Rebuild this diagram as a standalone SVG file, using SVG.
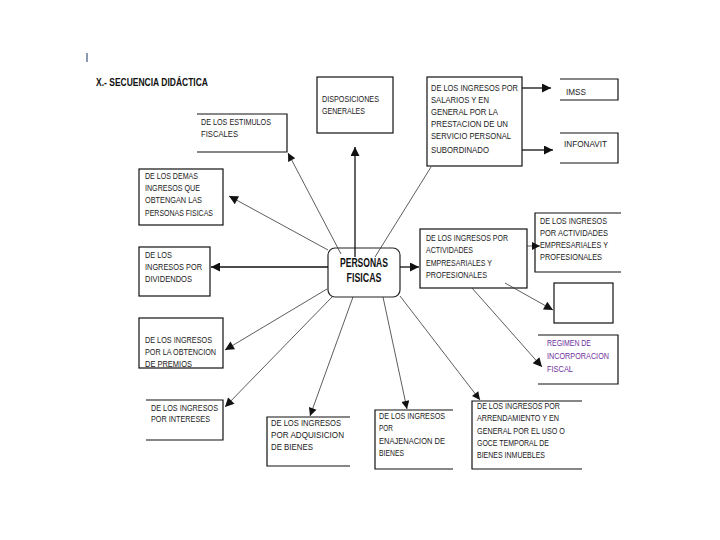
<svg xmlns="http://www.w3.org/2000/svg" width="720" height="540" viewBox="0 0 720 540">
<defs>
<style>
.t{font-family:"Liberation Sans",Arial,sans-serif;font-size:9.6px;fill:#1a1a1a}
.p{fill:#7030a0}
.b{fill:none;stroke:#111;stroke-width:1.2}
.c{fill:#fff;stroke:#222;stroke-width:1.2}
.thick{stroke:#111;stroke-width:1.3;fill:none}
.thin{stroke:#333;stroke-width:0.8;fill:none}
.h{font-family:"Liberation Sans",Arial,sans-serif;font-weight:bold;fill:#111}
</style>
<marker id="ah" viewBox="0 0 10 10" refX="10" refY="5" markerWidth="11" markerHeight="9" markerUnits="userSpaceOnUse" orient="auto">
<path d="M0,0 L10,5 L0,10 z" fill="#111"/>
</marker>
<marker id="as" viewBox="0 0 10 10" refX="10" refY="5" markerWidth="9" markerHeight="8" markerUnits="userSpaceOnUse" orient="auto">
<path d="M0,0 L10,5 L0,10 z" fill="#111"/>
</marker>
</defs>
<rect width="720" height="540" fill="#fff"/>
<line x1="87" y1="53" x2="87" y2="62" stroke="#8a9bb0" stroke-width="2"/>
<text class="h" x="96" y="86" font-size="11.5" textLength="112" lengthAdjust="spacingAndGlyphs">X.- SECUENCIA DIDÁCTICA</text>

<g id="estimulos">
<path class="b" d="M197,114 H287 V152 H197"/>
<text class="t" x="201" y="125" textLength="70" lengthAdjust="spacingAndGlyphs">DE LOS ESTIMULOS</text>
<text class="t" x="201" y="137" textLength="37" lengthAdjust="spacingAndGlyphs">FISCALES</text>
</g>
<g id="disposiciones">
<rect class="b" x="317" y="77" width="76" height="56"/>
<text class="t" x="322" y="102" textLength="57" lengthAdjust="spacingAndGlyphs">DISPOSICIONES</text>
<text class="t" x="322" y="114" textLength="43" lengthAdjust="spacingAndGlyphs">GENERALES</text>
</g>
<g id="salarios">
<rect class="b" x="427" y="77" width="95" height="89"/>
<text class="t" x="431" y="91" textLength="87" lengthAdjust="spacingAndGlyphs">DE LOS INGRESOS POR</text>
<text class="t" x="431" y="103" textLength="58" lengthAdjust="spacingAndGlyphs">SALARIOS Y EN</text>
<text class="t" x="431" y="115" textLength="67" lengthAdjust="spacingAndGlyphs">GENERAL POR LA</text>
<text class="t" x="431" y="127" textLength="77" lengthAdjust="spacingAndGlyphs">PRESTACION DE UN</text>
<text class="t" x="431" y="139" textLength="80" lengthAdjust="spacingAndGlyphs">SERVICIO PERSONAL</text>
<text class="t" x="431" y="153" textLength="58" lengthAdjust="spacingAndGlyphs">SUBORDINADO</text>
</g>
<g id="imss">
<path class="b" d="M560,79 H618 V100 H560"/>
<text class="t" x="566" y="95" textLength="20" lengthAdjust="spacingAndGlyphs">IMSS</text>
</g>
<g id="infonavit">
<path class="b" d="M560,133 H618 V163 H560"/>
<text class="t" x="564" y="147" textLength="43" lengthAdjust="spacingAndGlyphs">INFONAVIT</text>
</g>
<g id="demas">
<rect class="b" x="139" y="169" width="84" height="56"/>
<text class="t" x="145" y="179" textLength="53" lengthAdjust="spacingAndGlyphs">DE LOS DEMAS</text>
<text class="t" x="145" y="191" textLength="55" lengthAdjust="spacingAndGlyphs">INGRESOS QUE</text>
<text class="t" x="145" y="203" textLength="57" lengthAdjust="spacingAndGlyphs">OBTENGAN LAS</text>
<text class="t" x="145" y="216" textLength="68" lengthAdjust="spacingAndGlyphs">PERSONAS FISICAS</text>
</g>
<g id="dividendos">
<rect class="b" x="139" y="247" width="71" height="49"/>
<text class="t" x="145" y="258" textLength="27" lengthAdjust="spacingAndGlyphs">DE LOS</text>
<text class="t" x="145" y="270" textLength="57" lengthAdjust="spacingAndGlyphs">INGRESOS POR</text>
<text class="t" x="145" y="282" textLength="47" lengthAdjust="spacingAndGlyphs">DIVIDENDOS</text>
</g>
<g id="personas">
<rect class="c" x="328" y="248" width="72" height="49" rx="7" ry="7"/>
<text class="h" x="364" y="267" font-size="12.5" text-anchor="middle" textLength="48" lengthAdjust="spacingAndGlyphs">PERSONAS</text>
<text class="h" x="364" y="282" font-size="12.5" text-anchor="middle" textLength="35" lengthAdjust="spacingAndGlyphs">FISICAS</text>
</g>
<g id="actividades">
<rect class="b" x="420" y="229" width="107" height="59"/>
<text class="t" x="426" y="241" textLength="82" lengthAdjust="spacingAndGlyphs">DE LOS INGRESOS POR</text>
<text class="t" x="426" y="253" textLength="47" lengthAdjust="spacingAndGlyphs">ACTIVIDADES</text>
<text class="t" x="426" y="266" textLength="66" lengthAdjust="spacingAndGlyphs">EMPRESARIALES Y</text>
<text class="t" x="426" y="278" textLength="61" lengthAdjust="spacingAndGlyphs">PROFESIONALES</text>
</g>
<g id="actividades2">
<path class="b" d="M621,213 H535 V272 H621"/>
<text class="t" x="540" y="224" textLength="67" lengthAdjust="spacingAndGlyphs">DE LOS INGRESOS</text>
<text class="t" x="540" y="236" textLength="68" lengthAdjust="spacingAndGlyphs">POR  ACTIVIDADES</text>
<text class="t" x="540" y="248" textLength="68" lengthAdjust="spacingAndGlyphs">EMPRESARIALES Y</text>
<text class="t" x="540" y="260" textLength="62" lengthAdjust="spacingAndGlyphs">PROFESIONALES</text>
</g>
<g id="vacio">
<rect class="b" x="554" y="283" width="59" height="40"/>
</g>
<g id="regimen">
<path class="b" d="M538,335 H618 V384 H538"/>
<text class="t p" x="547" y="346" textLength="44" lengthAdjust="spacingAndGlyphs">REGIMEN DE</text>
<text class="t p" x="547" y="359" textLength="62" lengthAdjust="spacingAndGlyphs">INCORPORACION</text>
<text class="t p" x="547" y="372" textLength="26" lengthAdjust="spacingAndGlyphs">FISCAL</text>
</g>
<g id="premios">
<rect class="b" x="139" y="318" width="84" height="50"/>
<text class="t" x="145" y="343" textLength="67" lengthAdjust="spacingAndGlyphs">DE LOS INGRESOS</text>
<text class="t" x="145" y="355" textLength="71" lengthAdjust="spacingAndGlyphs">POR LA OBTENCION</text>
<text class="t" x="145" y="367" textLength="47" lengthAdjust="spacingAndGlyphs">DE PREMIOS</text>
</g>
<g id="intereses">
<path class="b" d="M146,400 H223 V440 H146"/>
<text class="t" x="151" y="411" textLength="67" lengthAdjust="spacingAndGlyphs">DE LOS INGRESOS</text>
<text class="t" x="151" y="422" textLength="59" lengthAdjust="spacingAndGlyphs">POR INTERESES</text>
</g>
<g id="adquisicion">
<path class="b" d="M350,417 H267 V466 H350"/>
<text class="t" x="271" y="426" textLength="70" lengthAdjust="spacingAndGlyphs">DE LOS INGRESOS</text>
<text class="t" x="271" y="438" textLength="73" lengthAdjust="spacingAndGlyphs">POR ADQUISICION</text>
<text class="t" x="271" y="450" textLength="42" lengthAdjust="spacingAndGlyphs">DE BIENES</text>
</g>
<g id="enajenacion">
<path class="b" d="M453,410 H375 V469 H453"/>
<text class="t" x="379" y="419" textLength="66" lengthAdjust="spacingAndGlyphs">DE LOS INGRESOS</text>
<text class="t" x="379" y="431" textLength="14" lengthAdjust="spacingAndGlyphs">POR</text>
<text class="t" x="379" y="444" textLength="66" lengthAdjust="spacingAndGlyphs">ENAJENACION DE</text>
<text class="t" x="379" y="456" textLength="25" lengthAdjust="spacingAndGlyphs">BIENES</text>
</g>
<g id="arrendamiento">
<path class="b" d="M582,401 H472 V469 H582"/>
<text class="t" x="477" y="409" textLength="83" lengthAdjust="spacingAndGlyphs">DE LOS INGRESOS POR</text>
<text class="t" x="477" y="421" textLength="82" lengthAdjust="spacingAndGlyphs">ARRENDAMIENTO Y EN</text>
<text class="t" x="477" y="434" textLength="88" lengthAdjust="spacingAndGlyphs">GENERAL POR EL USO O</text>
<text class="t" x="477" y="446" textLength="72" lengthAdjust="spacingAndGlyphs">GOCE TEMPORAL DE</text>
<text class="t" x="477" y="458" textLength="68" lengthAdjust="spacingAndGlyphs">BIENES INMUEBLES</text>
</g>

<g id="connectors">
<line class="thick" x1="355" y1="257" x2="355" y2="147" marker-end="url(#ah)"/>
<line class="thin" x1="341" y1="254" x2="288" y2="153" marker-end="url(#as)"/>
<line class="thin" x1="375" y1="257" x2="431" y2="167"/>
<line class="thin" x1="328" y1="250" x2="229" y2="196" marker-end="url(#ah)"/>
<line class="thick" x1="328" y1="267" x2="211" y2="267" marker-end="url(#ah)"/>
<line class="thin" x1="327" y1="289" x2="225" y2="350" marker-end="url(#ah)"/>
<line class="thin" x1="333" y1="296" x2="225" y2="407" marker-end="url(#ah)"/>
<line class="thin" x1="353" y1="297" x2="310" y2="416" marker-end="url(#as)"/>
<line class="thin" x1="383" y1="297" x2="407" y2="409" marker-end="url(#as)"/>
<line class="thin" x1="400" y1="296" x2="480" y2="400" marker-end="url(#as)"/>
<line class="thick" x1="400" y1="267" x2="419" y2="267" marker-end="url(#ah)"/>
<line class="thick" x1="522" y1="88" x2="551" y2="88" marker-end="url(#ah)"/>
<line class="thick" x1="522" y1="150" x2="553" y2="150" marker-end="url(#ah)"/>
<line class="thin" x1="527" y1="246" x2="540" y2="246" marker-end="url(#as)"/>
<line class="thin" x1="505" y1="283" x2="553" y2="310" marker-end="url(#ah)"/>
<line class="thin" x1="472" y1="288" x2="542" y2="367" marker-end="url(#ah)"/>
</g>
</svg>
